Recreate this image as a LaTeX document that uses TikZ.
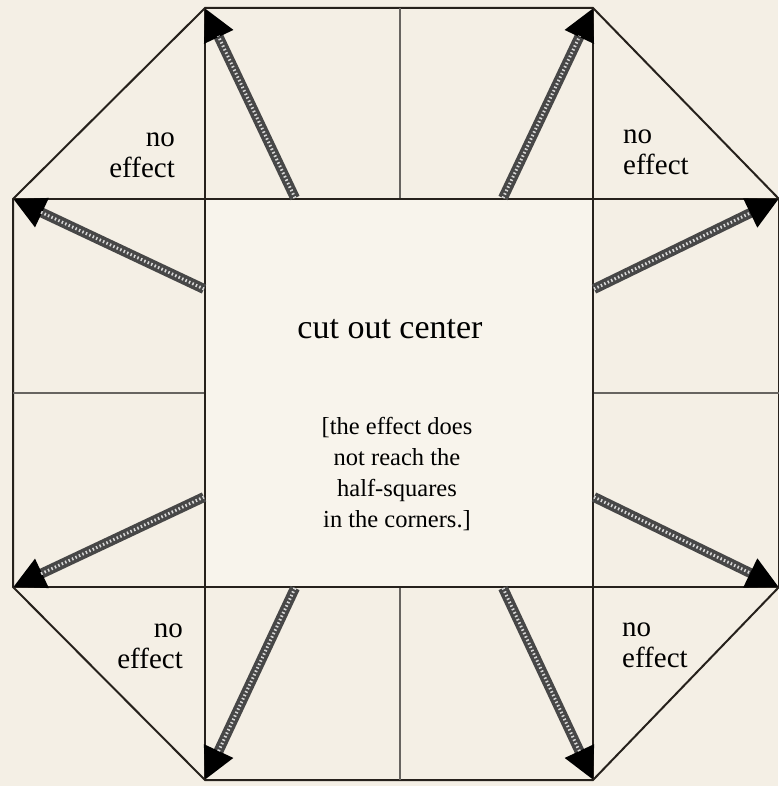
\documentclass[tikz,border=0pt]{standalone}
\usepackage{fontspec}
\setmainfont{Liberation Serif}
\usetikzlibrary{arrows.meta}

\definecolor{paper}{RGB}{244,239,229}
\definecolor{paperlight}{RGB}{248,244,236}
\definecolor{ink}{RGB}{38,33,28}

\begin{document}
\begin{tikzpicture}[
    x=1pt, y=-1pt,
    edge/.style={draw=ink, line width=2pt},
    split/.style={draw=ink!70, line width=1.2pt},
    chain/.style={line width=10pt, draw=black!72, -{Triangle[length=32pt, width=30pt, color=black]},
        postaction={draw=black!15, line width=3pt, dash pattern=on 1.5pt off 2.3pt, shorten >=31pt, -}},
    cornertxt/.style={inner sep=0pt, font=\fontsize{29}{31}\selectfont},
]
\fill[paper] (0,0) rectangle (778,786);
\useasboundingbox (0,0) rectangle (778,786);

% outer corners of the frame
\coordinate (nw) at (205,8);
\coordinate (ne) at (593,8);
\coordinate (en) at (779,199);
\coordinate (es) at (779,587);
\coordinate (se) at (593,780);
\coordinate (sw) at (205,780);
\coordinate (ws) at (13,587);
\coordinate (wn) at (13,199);

% frame, corner triangles and half squares
\draw[edge] (nw) -- (ne) -- (en) -- (es) -- (se) -- (sw) -- (ws) -- (wn) -- cycle;
\draw[edge] (wn) -- (en) (ws) -- (es) (nw) -- (sw) (ne) -- (se);
\draw[split] (400,8) -- (400,199) (400,587) -- (400,780);
\draw[split] (13,393) -- (205,393) (593,393) -- (779,393);

\node[draw=ink, line width=2pt, fill=paperlight, inner sep=0pt,
      minimum width=388pt, minimum height=388pt] (core) at (399,393) {};

\node[inner sep=0pt, anchor=base, font=\fontsize{34}{38}\selectfont] (title) at (390,338) {cut out center};
\node[inner sep=0pt, align=center, font=\fontsize{24.5}{31}\selectfont] (note) at (397,474)
    {[the effect does\\not reach the\\half-squares\\in the corners.]};

\node[cornertxt, align=right, anchor=base east] (nwtxt) at (175,178) {no\\effect};
\node[cornertxt, align=left, anchor=base west] (netxt) at (623,175) {no\\effect};
\node[cornertxt, align=right, anchor=base east] (swtxt) at (183,668) {no\\effect};
\node[cornertxt, align=left, anchor=base west] (setxt) at (622,667) {no\\effect};

% arrows from the cut out center to the corners
\draw[chain] ([xshift=91pt]core.north west) -- (nw);
\draw[chain] ([xshift=-91pt]core.north east) -- (ne);
\draw[chain] ([yshift=-91pt]core.north west) -- (wn);
\draw[chain] ([yshift=91pt]core.south west) -- (ws);
\draw[chain] ([yshift=-91pt]core.north east) -- (en);
\draw[chain] ([yshift=91pt]core.south east) -- (es);
\draw[chain] ([xshift=91pt]core.south west) -- (sw);
\draw[chain] ([xshift=-91pt]core.south east) -- (se);
\end{tikzpicture}
\end{document}
